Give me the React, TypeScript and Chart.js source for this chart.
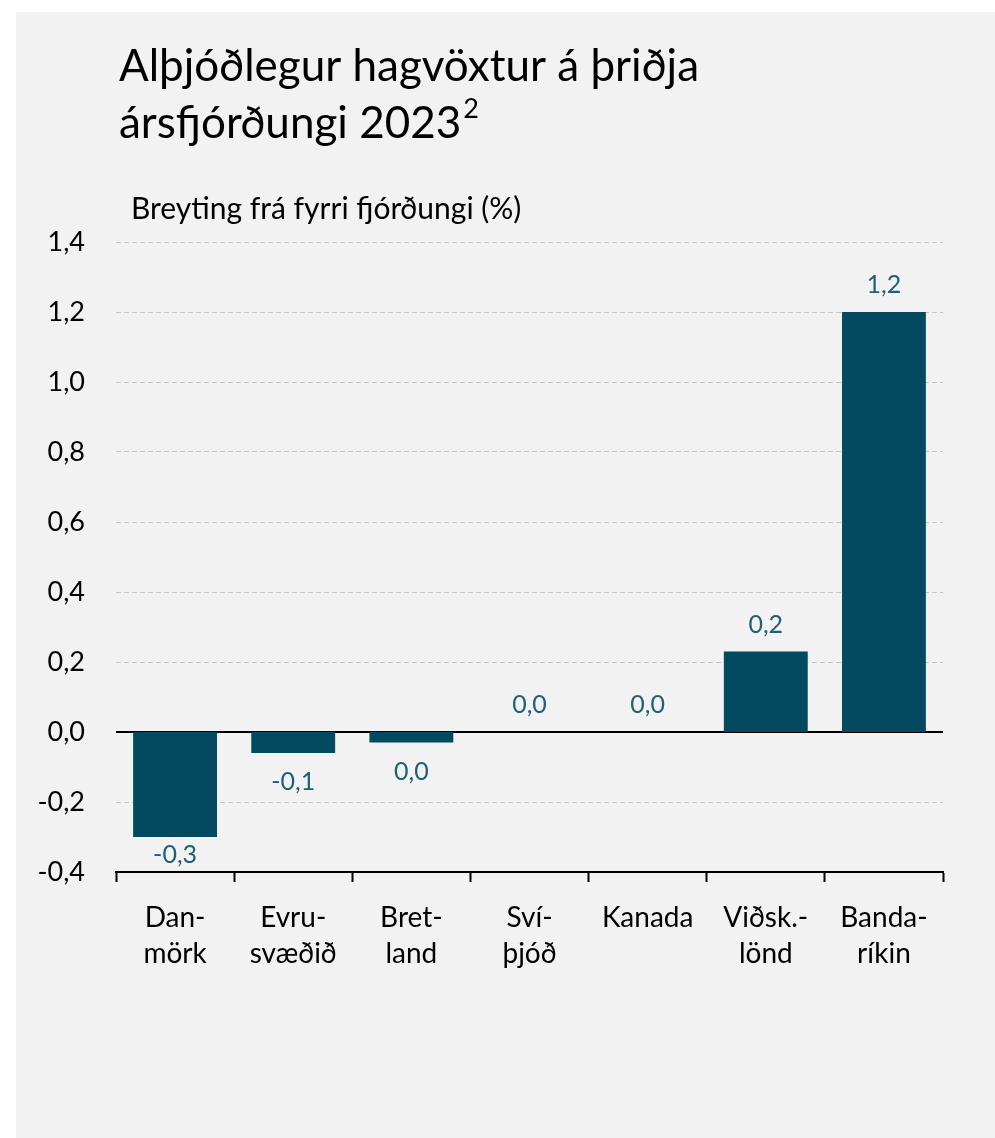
import React, { useEffect, useRef } from "react";
import { Chart, registerables } from "chart.js";

Chart.register(...registerables);

// ---- Data ----
const categories: string[][] = [
  ["Dan-", "mörk"],
  ["Evru-", "svæðið"],
  ["Bret-", "land"],
  ["Sví-", "þjóð"],
  ["Kanada"],
  ["Viðsk.-", "lönd"],
  ["Banda-", "ríkin"],
];
const values: number[] = [-0.3, -0.06, -0.03, 0.0, 0.0, 0.23, 1.2];
const yMin = -0.4;
const yMax = 1.4;
const yStep = 0.2;

const titleLines: string[] = ["Alþjóðlegur hagvöxtur á þriðja", "ársfjórðungi 2023"];
const titleSup = "2";
const subtitle = "Breyting frá fyrri fjórðungi (%)";

// ---- Styles ----
const FONT = "Lato, 'Open Sans', sans-serif";
const BAR_COLOR = "#03495f";
const LABEL_COLOR = "#215f78";
const GRID_COLOR = "#c6c6c6";

const fmt = (v: number) => {
  let s = v.toFixed(1).replace(".", ",");
  if (s === "-0,0") s = "0,0";
  return s;
};

const titlePlugin = {
  id: "titleText",
  afterDraw(chart: any) {
    const ctx = chart.ctx as CanvasRenderingContext2D;
    ctx.save();
    ctx.fillStyle = "#000";
    ctx.textAlign = "left";
    ctx.textBaseline = "alphabetic";
    ctx.font = `44px ${FONT}`;
    ctx.fillText(titleLines[0], 119, 81);
    ctx.fillText(titleLines[1], 119, 138);
    const w = ctx.measureText(titleLines[1]).width;
    ctx.font = `27px ${FONT}`;
    ctx.fillText(titleSup, 119 + w + 2, 118);
    ctx.font = `30px ${FONT}`;
    ctx.fillText(subtitle, 131, 219);
    ctx.restore();
  },
};

const valueLabelPlugin = {
  id: "valueLabels",
  afterDatasetsDraw(chart: any) {
    const ctx = chart.ctx as CanvasRenderingContext2D;
    const meta = chart.getDatasetMeta(0);
    const area = chart.chartArea;
    ctx.save();
    ctx.font = `25px ${FONT}`;
    ctx.fillStyle = LABEL_COLOR;
    ctx.textAlign = "center";
    ctx.textBaseline = "middle";
    meta.data.forEach((bar: any, i: number) => {
      const v = values[i];
      let cy: number;
      if (v >= 0) cy = bar.y - 27;
      else cy = Math.min(bar.y + 29, area.bottom - 17);
      ctx.fillText(fmt(v), bar.x, cy);
    });
    ctx.restore();
  },
};

const isZero = (v: number) => Math.abs(v) < 1e-9;

export default function App() {
  const ref = useRef<HTMLCanvasElement | null>(null);

  useEffect(() => {
    if (!ref.current) return;
    const chart = new Chart(ref.current, {
      type: "bar",
      data: {
        labels: categories,
        datasets: [
          {
            data: values,
            backgroundColor: BAR_COLOR,
            borderWidth: 0,
            barPercentage: 0.71,
            categoryPercentage: 1,
          },
        ],
      },
      options: {
        responsive: false,
        animation: false,
        devicePixelRatio: 1,
        layout: { padding: { top: 242, right: 52, bottom: 146, left: 0 } },
        plugins: {
          legend: { display: false },
          tooltip: { enabled: false },
          title: { display: false },
        },
        scales: {
          x: {
            grid: {
              offset: true,
              drawOnChartArea: false,
              drawTicks: true,
              tickLength: 10,
              tickColor: "#000",
              tickWidth: 2,
            },
            border: { display: true, color: "#000", width: 2 },
            ticks: {
              font: { family: FONT, size: 28, lineHeight: 1.32 },
              color: "#000",
              padding: 17,
              maxRotation: 0,
              autoSkip: false,
            },
            afterFit: (scale: any) => {
              scale.height = 120;
            },
          },
          y: {
            min: yMin,
            max: yMax,
            ticks: {
              stepSize: yStep,
              font: { family: FONT, size: 27 },
              color: "#000",
              padding: 31,
              callback: (v: any) => fmt(Number(v)),
            },
            grid: {
              drawTicks: false,
              color: (c: any) => {
                const v = c.tick ? c.tick.value : 1;
                if (isZero(v)) return "#000";
                if (Math.abs(v - yMin) < 1e-9) return "rgba(0,0,0,0)";
                return GRID_COLOR;
              },
              lineWidth: (c: any) => (c.tick && isZero(c.tick.value) ? 2 : 1),
            },
            border: {
              display: false,
              dash: (c: any) => (c.tick && isZero(c.tick.value) ? [] : [5, 3]),
            },
            afterFit: (scale: any) => {
              scale.width = 116;
            },
          },
        },
      },
      plugins: [titlePlugin, valueLabelPlugin],
    } as any);
    return () => chart.destroy();
  }, []);

  return (
    <div style={{ position: "absolute", left: 0, top: 0, width: 995, height: 1138, background: "#ffffff" }}>
      <div style={{ position: "absolute", left: 16, top: 12, width: 979, height: 1126, background: "#f2f2f2" }} />
      <canvas
        ref={ref}
        width={995}
        height={1138}
        style={{ position: "absolute", left: 0, top: 0, width: 995, height: 1138 }}
      />
    </div>
  );
}
